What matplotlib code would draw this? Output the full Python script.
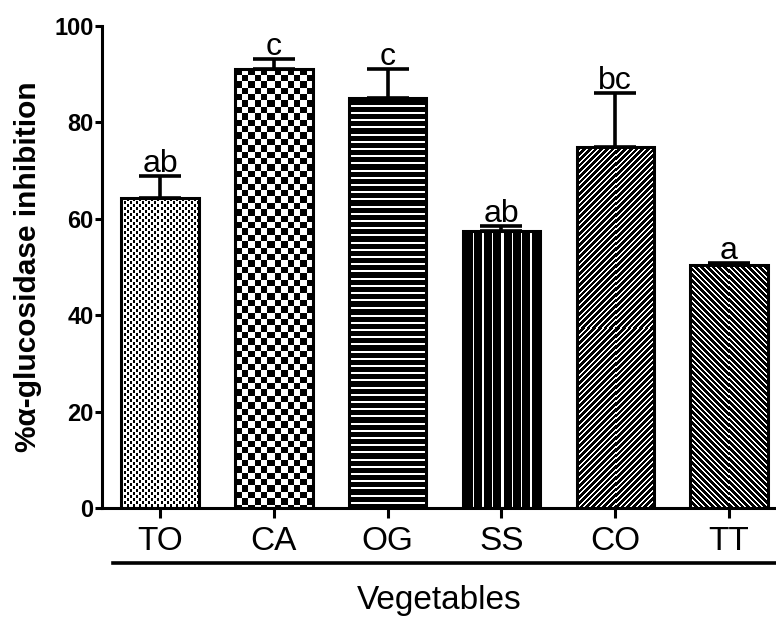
import numpy as np
import matplotlib
matplotlib.use("Agg")
import matplotlib.pyplot as plt
from matplotlib.lines import Line2D

plt.rcParams['font.family'] = ['Liberation Sans', 'DejaVu Sans']

# Data
categories = ["TO", "CA", "OG", "SS", "CO", "TT"]
inhibition = [64.3, 91.1, 85.1, 57.5, 74.9, 50.4]
sem = [4.6, 2.1, 6.0, 1.0, 11.2, 0.4]
groups = ["ab", "c", "c", "ab", "bc", "a"]
yticks = [0, 20, 40, 60, 80, 100]


# Fill patterns on the screen pixel grid (1 = white, 0 = black)
def fill_pattern(kind, h, w):
    r, c = np.mgrid[0:h, 0:w]
    if kind == "fine_check":
        black = ((r // 3 + c // 3) % 2 == 0) & (c % 3 < 2)
        return (~black).astype(float)
    if kind == "check":
        black = ((np.floor(r / 6.4) + np.floor(c / 6.4)) % 2 == 0)
        return (~black).astype(float)
    if kind == "hlines":
        return (r % 7.2 < 2.0).astype(float)
    if kind == "vlines":
        return (c % 9.4 < 1.5).astype(float)
    if kind == "fdiag":
        return ((r + c) % 5.7 < 2.0).astype(float)
    if kind == "bdiag":
        return ((c - r) % 5.7 < 2.0).astype(float)
    return np.ones((h, w))


patterns = ["fine_check", "check", "hlines", "vlines", "fdiag", "bdiag"]

W, H, DPI = 776, 617, 100
fig = plt.figure(figsize=(W / DPI, H / DPI), dpi=DPI)
ax = fig.add_axes([102 / W, 1 - 508 / H, (W - 102) / W, (508 - 26) / H])

x = np.arange(len(categories))
bar_w = 0.68
ax.set_xlim(-0.51, 5.413)
ax.set_ylim(0, 100)

bars = ax.bar(x, inhibition, width=bar_w, facecolor="none",
              edgecolor="black", linewidth=2.2, zorder=3)

# Paint each bar's fill pattern at screen resolution
fig.canvas.draw()
for rect, kind in zip(bars, patterns):
    x0, y0 = rect.get_x(), rect.get_y()
    x1, y1 = x0 + rect.get_width(), y0 + rect.get_height()
    (px0, py0), (px1, py1) = ax.transData.transform([(x0, y0), (x1, y1)])
    w_px = max(int(round(px1 - px0)), 1)
    h_px = max(int(round(py1 - py0)), 1)
    img = fill_pattern(kind, h_px, w_px)
    ax.imshow(img, cmap="gray", vmin=0, vmax=1, extent=(x0, x1, y0, y1),
              origin="upper", aspect="auto", interpolation="nearest", zorder=2)

ax.set_xlim(-0.51, 5.413)
ax.set_ylim(0, 100)

# Upper error bars
ax.errorbar(x, inhibition, yerr=[np.zeros(len(sem)), sem], fmt="none",
            ecolor="black", elinewidth=2.6, capsize=15, capthick=2.6, zorder=4)

# Significance letters above the error bars
for xi, v, e, g in zip(x, inhibition, sem, groups):
    ax.annotate(g, (xi, v + e), xytext=(0, 3), textcoords="offset points",
                ha="center", va="baseline", fontsize=23, zorder=5)

for side in ["top", "right"]:
    ax.spines[side].set_visible(False)
for side in ["left", "bottom"]:
    ax.spines[side].set_linewidth(2.2)

ax.set_yticks(yticks)
ax.set_yticklabels([str(t) for t in yticks], fontsize=17, fontweight="bold")
ax.set_xticks(x)
ax.set_xticklabels(categories, fontsize=24)
ax.tick_params(axis="y", direction="out", length=5, width=2.2, pad=1)
ax.tick_params(axis="x", direction="out", length=7, width=2.2, pad=6)

ax.set_ylabel("%\u03b1-glucosidase inhibition", fontsize=21.5, fontweight="bold",
              labelpad=9)

# Bracket line under the category labels and the axis title
ax.add_line(Line2D([0.016, 1.0], [-0.114, -0.114], transform=ax.transAxes,
                   color="black", linewidth=2.6, clip_on=False))
ax.text(0.5, -0.191, "Vegetables", transform=ax.transAxes, ha="center",
        va="center", fontsize=24)

fig.savefig("out.png", dpi=DPI)
